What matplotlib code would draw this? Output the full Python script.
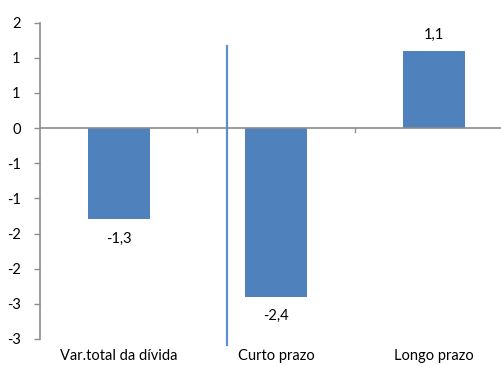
import matplotlib
matplotlib.use("Agg")
import matplotlib.pyplot as plt
from matplotlib.lines import Line2D
import numpy as np

categories = ["Var.total da dívida", "Curto prazo", "Longo prazo"]
values = [-1.3, -2.4, 1.1]
value_labels = ["-1,3", "-2,4", "1,1"]
yticks = [-3.0, -2.5, -2.0, -1.5, -1.0, -0.5, 0.0, 0.5, 1.0, 1.5]
ytick_labels = ["-3", "-3", "-2", "-2", "-1", "-1", "0", "1", "1", "2"]

plt.rcParams["font.family"] = ["Lato", "DejaVu Sans"]

W, H = 502, 367
fig = plt.figure(figsize=(W / 100, H / 100), dpi=100)
ax = fig.add_axes([40 / W, 1 - 339 / H, 472.5 / W, (339 - 22.5) / H])

x = np.arange(len(categories))
bar_color = "#4F81BD"
ax.bar(x, values, width=0.395, color=bar_color, zorder=2)

ax.set_xlim(-0.5, len(categories) - 0.5)
ax.set_ylim(-3.0, 1.5)

# zero line as the category axis
ax.axhline(0, color="#8C8C8C", lw=1.2, zorder=3)
for b in np.arange(0.5, len(categories) - 0.5, 1.0):
    ax.plot([b, b], [0, -0.05], color="#8C8C8C", lw=1, zorder=3, clip_on=False)

for side in ["top", "right", "bottom"]:
    ax.spines[side].set_visible(False)
ax.spines["left"].set_color("#8C8C8C")
ax.spines["left"].set_linewidth(1.2)

ax.set_yticks(yticks)
ax.set_yticklabels(ytick_labels, fontsize=10.5, color="#000000")
ax.tick_params(axis="y", direction="out", length=4, width=1, color="#8C8C8C", pad=10)
for lbl in ax.get_yticklabels():
    lbl.set_horizontalalignment("right")

ax.set_xticks([])
for xi, name in zip(x, categories):
    ax.annotate(name, xy=(xi, -3.0), xytext=(0, -12), textcoords="offset points",
                ha="center", va="center", fontsize=10.5, annotation_clip=False)

for xi, v, t in zip(x, values, value_labels):
    off = 11.5 if v > 0 else -14
    ax.annotate(t, xy=(xi, v), xytext=(0, off), textcoords="offset points",
                ha="center", va="center", fontsize=10.5)

# separator between total and its components
fig.add_artist(Line2D([227 / W, 227 / W], [1 - 46 / H, 1 - 345 / H],
                      transform=fig.transFigure, color="#5B8FD0", lw=1.6))

fig.savefig("out.png", dpi=100, facecolor="white")
